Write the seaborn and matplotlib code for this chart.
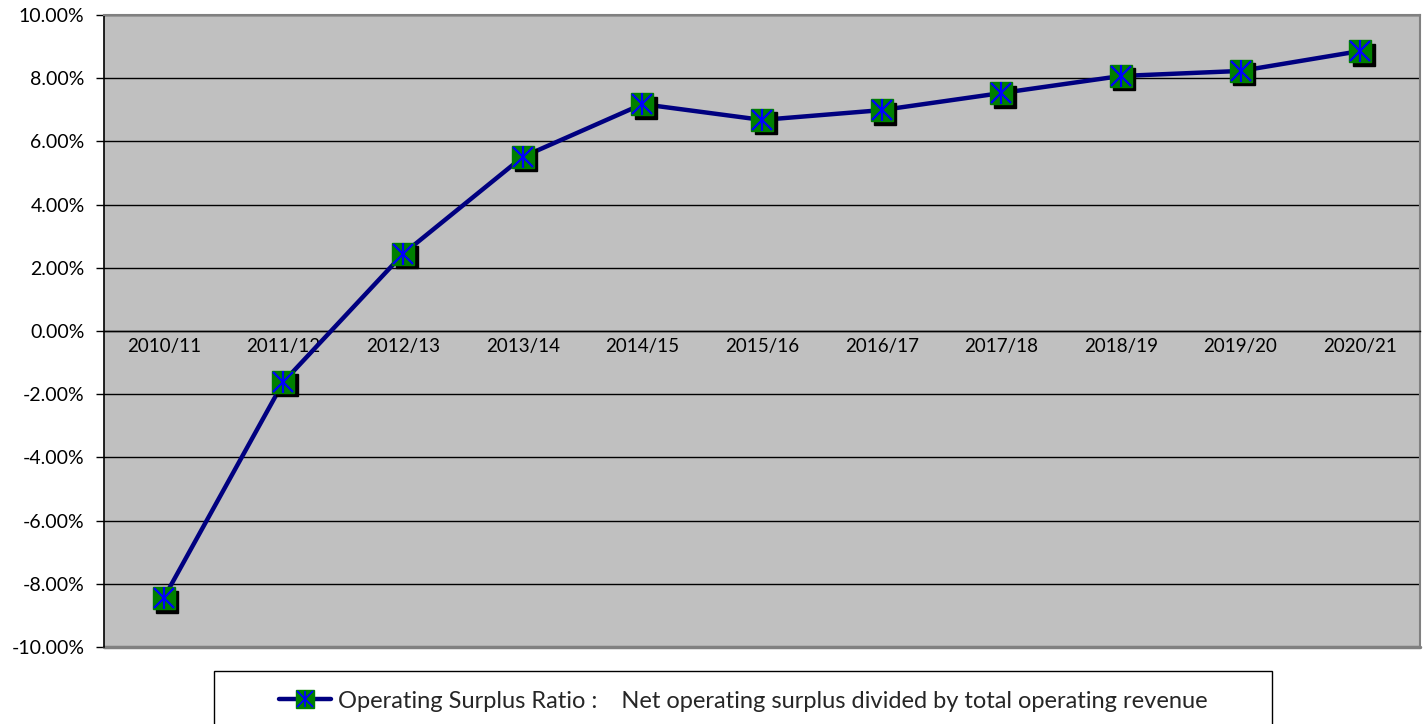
import matplotlib
matplotlib.use("Agg")
import matplotlib.pyplot as plt
import matplotlib.transforms as mtransforms
from matplotlib.lines import Line2D
from matplotlib.legend_handler import HandlerTuple
from matplotlib.patches import Rectangle
from matplotlib.ticker import FuncFormatter, FixedLocator
import seaborn as sns
import pandas as pd

years = ["2010/11", "2011/12", "2012/13", "2013/14", "2014/15", "2015/16",
         "2016/17", "2017/18", "2018/19", "2019/20", "2020/21"]
ratio_pct = [-8.45, -1.61, 2.44, 5.51, 7.18, 6.68, 6.99, 7.53, 8.07, 8.23, 8.86]
legend_label = "Operating Surplus Ratio :    Net operating surplus divided by total operating revenue"

df = pd.DataFrame({"pos": range(len(years)), "year": years, "ratio": ratio_pct})

sns.set_style("white")
plt.rcParams["font.family"] = ["Lato", "DejaVu Sans"]

fig = plt.figure(figsize=(14.27, 7.24), dpi=100)
ax = fig.add_axes([104 / 1427, 1 - 647 / 724, (1420 - 104) / 1427, (647 - 15) / 724])
ax.set_facecolor("#C0C0C0")

navy = "#000080"
sns.lineplot(data=df, x="pos", y="ratio", ax=ax, color=navy, lw=3.2, zorder=3, legend=False)

shadow = mtransforms.offset_copy(ax.transData, fig=fig, x=3.5, y=-3.5, units="dots")
ms = 16.5
ax.plot(df["pos"], df["ratio"], ls="none", marker="s", ms=ms, mfc="black", mec="black",
        transform=shadow, zorder=4)
ax.plot(df["pos"], df["ratio"], ls="none", marker="s", ms=ms, mfc="#008000", mec="#008000", zorder=5)
ax.plot(df["pos"], df["ratio"], ls="none", marker="x", ms=ms * 0.85, mec="#0000FF", mew=1.6, zorder=6)
ax.plot(df["pos"], df["ratio"], ls="none", marker="|", ms=ms * 0.95, mec="#0000FF", mew=1.6, zorder=6)

ax.set_xlim(-0.5, len(years) - 0.5)
ax.set_ylim(-10, 10)
ax.set_yticks(range(-10, 11, 2))
ax.yaxis.set_major_formatter(FuncFormatter(lambda v, p: f"{v:.2f}%"))
ax.yaxis.grid(True, color="black", lw=1.0)
ax.set_axisbelow(True)

ax.set_xticks(range(len(years)))
ax.set_xticklabels(years)
ax.xaxis.set_minor_locator(FixedLocator([i + 0.5 for i in range(len(years) - 1)]))
ax.tick_params(axis="x", which="major", length=0, pad=5, labelsize=13.5, colors="black")
ax.tick_params(axis="x", which="minor", length=6, width=1, direction="out", color="black")
ax.tick_params(axis="y", which="major", length=6, width=1, direction="out", labelsize=14,
               pad=8, color="black", labelcolor="black", left=True)
ax.set_xlabel("")
ax.set_ylabel("")

ax.spines["bottom"].set_position(("data", 0))
ax.spines["bottom"].set_color("black")
ax.spines["bottom"].set_linewidth(1.0)
ax.spines["left"].set_color("black")
ax.spines["left"].set_linewidth(1.2)
for s in ["top", "right"]:
    ax.spines[s].set_color("#808080")
    ax.spines[s].set_linewidth(1.5)
    ax.spines[s].set_visible(True)
ax.axhline(-10, color="#808080", lw=2.5, clip_on=False, zorder=2)

# legend box
fig.add_artist(Rectangle((214 / 1427, -0.05), (1272 - 214) / 1427, 0.05 + (724 - 671) / 724,
                         transform=fig.transFigure, facecolor="white", edgecolor="black",
                         lw=1.0, clip_on=False))
h_line = Line2D([], [], color=navy, lw=3.2)
h_sq = Line2D([], [], ls="none", marker="s", ms=13, mfc="#008000", mec="#008000")
h_x = Line2D([], [], ls="none", marker="x", ms=11, mec="#0000FF", mew=1.3)
h_v = Line2D([], [], ls="none", marker="|", ms=12, mec="#0000FF", mew=1.3)
fig.legend([(h_line, h_sq, h_x, h_v)], [legend_label],
           handler_map={tuple: HandlerTuple(ndivide=1)},
           loc="center", bbox_to_anchor=(743 / 1427, 1 - 701 / 724),
           frameon=False, fontsize=17, handlelength=2.2, handletextpad=0.3)

fig.savefig("out.png", dpi=100)
